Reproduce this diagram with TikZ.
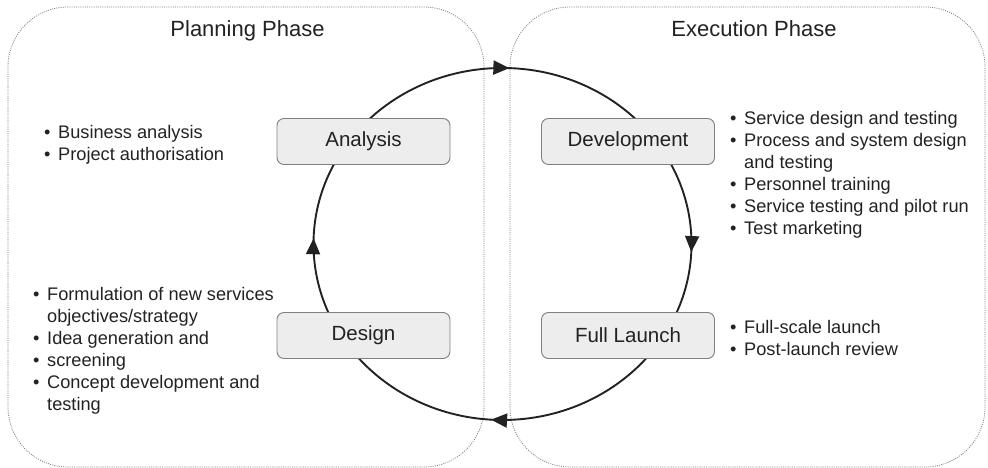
\documentclass[tikz,border=0pt]{standalone}
\usepackage{fontspec}
\setmainfont{Liberation Sans}
\usetikzlibrary{arrows.meta,decorations.markings}

\definecolor{boxfill}{HTML}{EDEDED}
\definecolor{boxline}{HTML}{7F7F7F}
\definecolor{ink}{HTML}{222222}
\definecolor{phaseline}{HTML}{7A7A7A}

\newcommand{\itm}{\makebox[14pt][l]{\textbullet}}
\newcommand{\cnt}{\hspace*{14pt}}
\newcommand{\ringtip}{\arrow{Triangle[length=16pt,width=14pt]}}

\tikzset{
	phase/.style={draw=phaseline, line width=0.75pt, dash pattern=on 1pt off 1.2pt, rounded corners=60pt},
	stage/.style={draw=boxline, fill=boxfill, line width=0.9pt, rounded corners=7pt,
		minimum width=173pt, minimum height=46pt, inner sep=0pt,
		font=\fontsize{20.5}{24}\selectfont, text=ink},
	title/.style={anchor=base, font=\fontsize{22}{26}\selectfont, text=ink},
	notes/.style={anchor=base west, inner sep=0pt, font=\fontsize{18.2}{22}\selectfont, text=ink},
	ring/.style={draw=ink, line width=1.9pt, postaction={decorate},
		decoration={markings,
			mark=at position 0.006 with {\ringtip},
			mark=at position 0.257 with {\ringtip},
			mark=at position 0.510 with {\ringtip},
			mark=at position 0.755 with {\ringtip}}}
}

\begin{document}
\begin{tikzpicture}[x=1pt, y=1pt]
	\useasboundingbox (0,0) rectangle (988,468);

	\draw[phase] (8,1) rectangle (484,461);
	\draw[phase] (510,1) rectangle (985,461);

	\node[title] (plan) at (247.5,431) {Planning Phase};
	\node[title] (exec) at (754,431) {Execution Phase};

	\coordinate (hub) at (502.5,224);
	\draw[ring] ([yshift=176pt]hub) arc[start angle=90, end angle=-270, x radius=189pt, y radius=176pt];

	\node[stage] (analysis)    at (363.5,326.5) {Analysis};
	\node[stage] (development) at (628,326.5)   {Development};
	\node[stage] (design)      at (363.5,132.5) {Design};
	\node[stage] (launch)      at (628,132.5)   {Full Launch};

	\node[notes] (analysisnotes) at (44,329) {\begin{tabular}[t]{@{}l@{}}
		\itm Business analysis\\
		\itm Project authorisation
	\end{tabular}};
	\node[notes] (designnotes) at (33,167) {\begin{tabular}[t]{@{}l@{}}
		\itm Formulation of new services\\
		\cnt objectives/strategy\\
		\itm Idea generation and\\
		\itm screening\\
		\itm Concept development and\\
		\cnt testing
	\end{tabular}};
	\node[notes] (developmentnotes) at (730,343) {\begin{tabular}[t]{@{}l@{}}
		\itm Service design and testing\\
		\itm Process and system design\\
		\cnt and testing\\
		\itm Personnel training\\
		\itm Service testing and pilot run\\
		\itm Test marketing
	\end{tabular}};
	\node[notes] (launchnotes) at (730,134) {\begin{tabular}[t]{@{}l@{}}
		\itm Full-scale launch\\
		\itm Post-launch review
	\end{tabular}};

\end{tikzpicture}
\end{document}
